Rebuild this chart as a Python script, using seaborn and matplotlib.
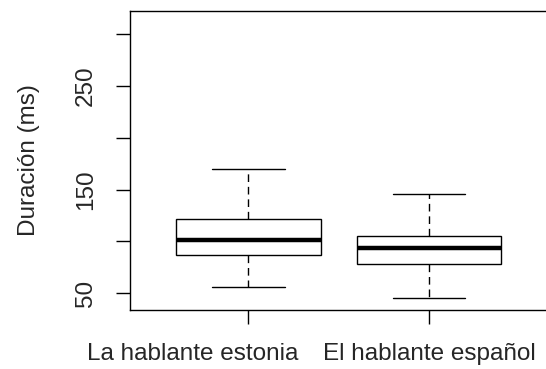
import numpy as np
import pandas as pd
import matplotlib
matplotlib.use('Agg')
import matplotlib.pyplot as plt
import matplotlib.transforms as mtransforms
import seaborn as sns

# five-number summaries (min, Q1, median, Q3, max)
grupos = ['La hablante estonia', 'El hablante español']
estonia = [56.4, 87.2, 101.1, 121.3, 169.6]
espanol = [45.8, 78.0, 93.4, 105.2, 146.0]
yticks = [50, 100, 150, 200, 250, 300]
ylabels = ['50', '', '150', '', '250', '']

df = pd.DataFrame({
    'grupo': [grupos[0]] * len(estonia) + [grupos[1]] * len(espanol),
    'duracion': estonia + espanol,
})

sns.set_style('ticks')
plt.rcParams['font.family'] = ['Liberation Sans', 'DejaVu Sans']

fig = plt.figure(figsize=(5.46, 3.69), dpi=100)
ax = fig.add_axes([0.2381, 0.1599, 0.7645, 0.8103])

sns.boxplot(data=df, x='grupo', y='duracion', order=grupos, ax=ax,
            whis=np.inf, width=0.8, color='white', linecolor='black',
            linewidth=1.0, showfliers=False,
            medianprops=dict(linewidth=3.2, color='black'),
            whiskerprops=dict(linestyle=(0, (5.5, 3.5)), color='black'),
            capprops=dict(color='black'),
            boxprops=dict(facecolor='white', edgecolor='black'))

ax.set_xlim(-0.655, 1.655)
ax.set_ylim(33.9, 322.2)
ax.set_yticks(yticks)
ax.set_yticklabels(ylabels)
ax.set_xlabel('')
ax.set_ylabel('Duración (ms)', fontsize=17.5, labelpad=25)

ax.tick_params(axis='both', length=10, width=1, color='black', labelsize=17.5, direction='out')
ax.tick_params(axis='x', pad=14)
ax.tick_params(axis='y', pad=14)
for t in ax.get_yticklabels():
    t.set_rotation(90)
    t.set_va('center')

# first category label sits left of its tick in the original
lab = ax.get_xticklabels()[0]
lab.set_transform(lab.get_transform() + mtransforms.ScaledTranslation(-0.56, 0, fig.dpi_scale_trans))

for s in ax.spines.values():
    s.set_visible(True)
    s.set_color('black')
    s.set_linewidth(1)

fig.savefig('out.png', dpi=100, facecolor='white')
